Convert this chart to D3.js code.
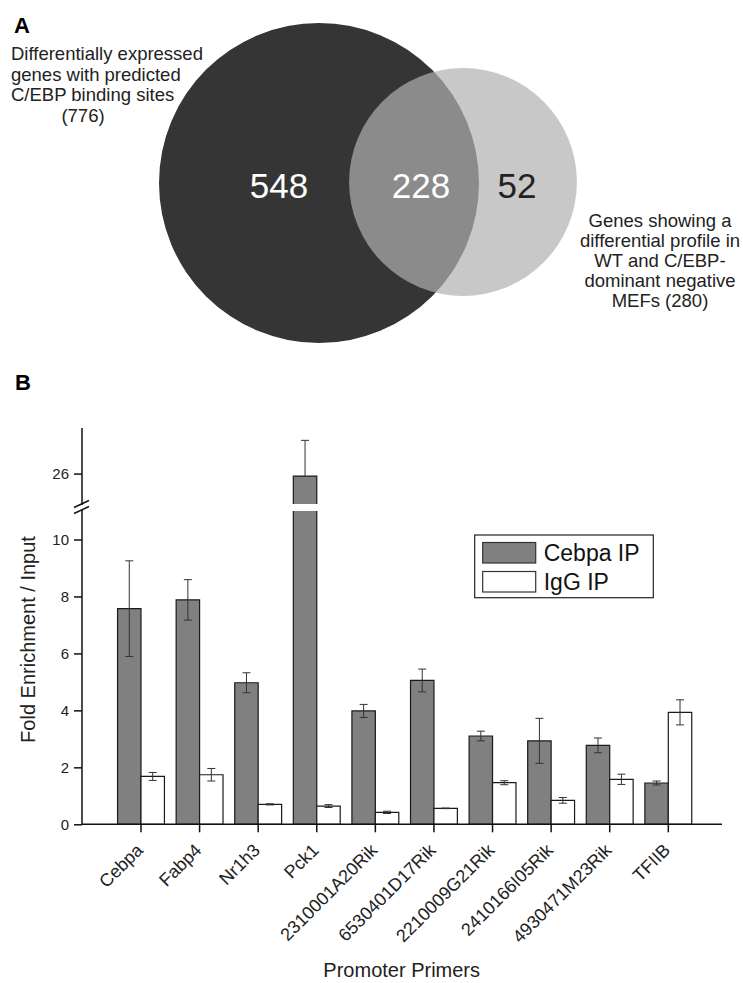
<!DOCTYPE html>
<html>
<head>
<meta charset="utf-8">
<script src="https://cdn.jsdelivr.net/npm/d3@7"></script>
<style>
  body { margin: 0; background: #fff; }
  svg text { font-family: "Liberation Sans", Arial, sans-serif; }
</style>
</head>
<body>
<div id="chart"></div>
<script>
// Panel A: Venn counts
const vennTotals = [776, 280];
const vennCounts = [548, 228, 52];
const leftLabel = ['Differentially expressed', 'genes with predicted', 'C/EBP binding sites', '(776)'];
const rightLabel = ['Genes showing a', 'differential profile in', 'WT and C/EBP-', 'dominant negative', 'MEFs (280)'];

// Panel B: fold enrichment per promoter
const primers = ['Cebpa', 'Fabp4', 'Nr1h3', 'Pck1', '2310001A20Rik', '6530401D17Rik',
                 '2210009G21Rik', '2410166I05Rik', '4930471M23Rik', 'TFIIB'];
const series = ['Cebpa IP', 'IgG IP'];
const cebpaIP  = [7.57, 7.88, 4.97, 25.87, 3.98, 5.05, 3.10, 2.93, 2.77, 1.45];
const cebpaErr = [1.68, 0.71, 0.35, 1.88, 0.23, 0.40, 0.17, 0.79, 0.26, 0.07];
const iggIP    = [1.68, 1.74, 0.70, 0.64, 0.42, 0.56, 1.46, 0.84, 1.58, 3.93];
const iggErr   = [0.14, 0.22, 0.02, 0.05, 0.04, 0.01, 0.07, 0.10, 0.18, 0.44];
const lowTicks = [0, 2, 4, 6, 8, 10];
const highTicks = [26];

const W = 743, H = 983;
const svg = d3.select('#chart').append('svg')
    .attr('width', W).attr('height', H);

svg.append('rect').attr('width', W).attr('height', H).attr('fill', '#fff');

// ---------- A: Venn ----------
svg.append('text').attr('x', 14).attr('y', 33)
    .style('font-size', '22px').style('font-weight', 'bold').text('A');

// radius grows with cube root of set size
const rScale = d3.scalePow().exponent(1 / 3).domain([0, 776]).range([0, 160]);
const centers = [[319, 183], [463, 182]];

svg.append('circle')
    .attr('cx', centers[0][0]).attr('cy', centers[0][1])
    .attr('r', rScale(vennTotals[0]))
    .attr('fill', '#353535');

svg.append('circle')
    .attr('cx', centers[1][0]).attr('cy', centers[1][1])
    .attr('r', rScale(vennTotals[1]))
    .attr('fill', 'rgb(177,177,177)')
    .attr('fill-opacity', 0.7);

const countX = [279, 421, 517];
svg.selectAll('.count')
    .data(vennCounts)
    .enter()
    .append('text')
    .attr('class', 'count')
    .attr('x', (d, i) => countX[i])
    .attr('y', 198)
    .attr('text-anchor', 'middle')
    .style('font-size', '35px')
    .attr('fill', (d, i) => i < 2 ? '#fff' : '#222')
    .text(d => d);

svg.selectAll('.lab-left')
    .data(leftLabel)
    .enter()
    .append('text')
    .attr('class', 'lab-left')
    .attr('x', (d, i) => i < 3 ? 11 : 83)
    .attr('y', (d, i) => 60 + i * 20.5)
    .attr('text-anchor', (d, i) => i < 3 ? 'start' : 'middle')
    .style('font-size', '18.5px')
    .attr('fill', '#222')
    .text(d => d);

svg.selectAll('.lab-right')
    .data(rightLabel)
    .enter()
    .append('text')
    .attr('class', 'lab-right')
    .attr('x', 660)
    .attr('y', (d, i) => 227 + i * 20)
    .attr('text-anchor', 'middle')
    .style('font-size', '18.5px')
    .attr('fill', '#222')
    .text(d => d);

// ---------- B: bar chart ----------
svg.append('text').attr('x', 15).attr('y', 390)
    .style('font-size', '22px').style('font-weight', 'bold').text('B');

const axisX = 82, baseY = 824.3;
const breakLow = 11, breakHigh = 24.4;

const yLow = d3.scaleLinear().domain([0, breakLow]).range([baseY, 511]);
const yHigh = d3.scaleLinear().domain([breakHigh, 28.4]).range([504, 428]);

const x = d3.scaleBand()
    .domain(primers)
    .range([111.7, 697.6])
    .paddingInner(0.2)
    .paddingOuter(0.1);

const xSub = d3.scaleBand()
    .domain(series)
    .range([0, x.bandwidth()]);

const fills = ['#808080', '#ffffff'];
const rows = primers.map((p, i) => ({
    primer: p,
    bars: [
        { key: series[0], value: cebpaIP[i], err: cebpaErr[i] },
        { key: series[1], value: iggIP[i], err: iggErr[i] }
    ]
}));

// each segment: [bottom y, top y, open bottom?, open top?]
function segments(v) {
    if (v <= breakLow) return [[yLow(0), yLow(v), false, false]];
    return [[yLow(0), yLow(breakLow), false, true], [yHigh(breakHigh), yHigh(v), true, false]];
}

function outline(x0, x1, s) {
    const [yb, yt, openB, openT] = s;
    const p = d3.path();
    if (openB) p.moveTo(x0, yb); else { p.moveTo(x1, yb); p.lineTo(x0, yb); }
    p.lineTo(x0, yt);
    if (openT) { p.moveTo(x1, yt); } else { p.lineTo(x1, yt); }
    p.lineTo(x1, yb);
    if (!openB) p.closePath();
    return p.toString();
}

const groups = svg.selectAll('.grp')
    .data(rows)
    .enter()
    .append('g')
    .attr('class', 'grp')
    .attr('transform', d => `translate(${x(d.primer)},0)`);

const bars = groups.selectAll('.bar')
    .data(d => d.bars)
    .enter()
    .append('g')
    .attr('class', 'bar');

const segs = bars.selectAll('.seg')
    .data(d => segments(d.value).map(s => ({ s, key: d.key })))
    .enter()
    .append('g')
    .attr('class', 'seg');

segs.append('rect')
    .attr('x', d => xSub(d.key))
    .attr('y', d => d.s[1])
    .attr('width', xSub.bandwidth())
    .attr('height', d => d.s[0] - d.s[1])
    .attr('fill', d => fills[series.indexOf(d.key)]);

segs.append('path')
    .attr('d', d => outline(xSub(d.key), xSub(d.key) + xSub.bandwidth(), d.s))
    .attr('fill', 'none')
    .attr('stroke', '#1a1a1a')
    .attr('stroke-width', 1.2);

// error bars
const capW = 4;
bars.each(function (d) {
    const g = d3.select(this);
    const cx = xSub(d.key) + xSub.bandwidth() / 2;
    const y = d.value > breakLow ? yHigh : yLow;
    const lo = d.value - d.err;
    const showLo = d.value <= breakLow || lo >= breakHigh;
    const yTop = y(d.value + d.err);
    const yBot = showLo ? y(lo) : y(d.value);
    g.append('line')
        .attr('x1', cx).attr('x2', cx)
        .attr('y1', yTop).attr('y2', yBot)
        .attr('stroke', '#333').attr('stroke-width', 1);
    g.append('line')
        .attr('x1', cx - capW).attr('x2', cx + capW)
        .attr('y1', yTop).attr('y2', yTop)
        .attr('stroke', '#333').attr('stroke-width', 1);
    if (showLo) {
        g.append('line')
            .attr('x1', cx - capW).attr('x2', cx + capW)
            .attr('y1', yBot).attr('y2', yBot)
            .attr('stroke', '#333').attr('stroke-width', 1);
    }
});

// y axis (two segments with a break)
const yAxisLow = svg.append('g')
    .attr('transform', `translate(${axisX},0)`)
    .call(d3.axisLeft(yLow).tickValues(lowTicks).tickSize(8).tickPadding(5).tickFormat(d3.format('d')));
const yAxisHigh = svg.append('g')
    .attr('transform', `translate(${axisX},0)`)
    .call(d3.axisLeft(yHigh).tickValues(highTicks).tickSize(8).tickPadding(5).tickFormat(d3.format('d')));

[yAxisLow, yAxisHigh].forEach(a => {
    a.select('.domain').remove();
    a.selectAll('.tick line').attr('stroke', '#111').attr('stroke-width', 1.5);
    a.selectAll('.tick text')
        .attr('fill', '#222')
        .style('font-size', '15px')
        .style('font-family', '"Liberation Sans", Arial, sans-serif');
});

svg.append('line')
    .attr('x1', axisX).attr('x2', axisX)
    .attr('y1', yLow(0)).attr('y2', yLow(breakLow) - 1)
    .attr('stroke', '#111').attr('stroke-width', 1.5);
svg.append('line')
    .attr('x1', axisX).attr('x2', axisX)
    .attr('y1', yHigh(breakHigh) + 1).attr('y2', 428)
    .attr('stroke', '#111').attr('stroke-width', 1.5);

// break marks
[0, 6].forEach(off => {
    svg.append('line')
        .attr('x1', axisX - 8).attr('y1', 507.5 + off)
        .attr('x2', axisX + 7).attr('y2', 500.5 + off)
        .attr('stroke', '#111').attr('stroke-width', 1.5);
});

// x axis
const xAxis = svg.append('g')
    .attr('transform', `translate(0,${baseY})`)
    .call(d3.axisBottom(x).tickSize(8).tickPadding(0));
xAxis.select('.domain').remove();
xAxis.selectAll('.tick line').attr('stroke', '#111').attr('stroke-width', 1.5);
xAxis.selectAll('.tick text')
    .attr('y', 0).attr('dy', 0)
    .attr('text-anchor', 'end')
    .attr('transform', 'translate(3,27) rotate(-45)')
    .attr('fill', '#222')
    .style('font-size', '18px')
    .style('font-family', '"Liberation Sans", Arial, sans-serif');

svg.append('line')
    .attr('x1', axisX).attr('x2', 722)
    .attr('y1', baseY).attr('y2', baseY)
    .attr('stroke', '#111').attr('stroke-width', 1.5);

// axis titles
svg.append('text')
    .attr('transform', 'translate(35,639.5) rotate(-90)')
    .attr('text-anchor', 'middle')
    .style('font-size', '20px')
    .attr('fill', '#222')
    .text('Fold Enrichment / Input');

svg.append('text')
    .attr('x', 401.7).attr('y', 977)
    .attr('text-anchor', 'middle')
    .style('font-size', '20px')
    .attr('fill', '#222')
    .text('Promoter Primers');

// legend
const legend = svg.append('g').attr('transform', 'translate(474.7,535)');
legend.append('rect')
    .attr('width', 178.6).attr('height', 62.7)
    .attr('fill', '#fff').attr('stroke', '#222').attr('stroke-width', 1.2);
const items = legend.selectAll('.item')
    .data(series)
    .enter()
    .append('g')
    .attr('class', 'item')
    .attr('transform', (d, i) => `translate(8,${7.5 + i * 29})`);
items.append('rect')
    .attr('width', 53).attr('height', 20.5)
    .attr('fill', (d, i) => fills[i])
    .attr('stroke', '#333').attr('stroke-width', 1.2);
items.append('text')
    .attr('x', 61).attr('y', 18)
    .style('font-size', '23px')
    .attr('fill', '#111')
    .text(d => d);
</script>
</body>
</html>
